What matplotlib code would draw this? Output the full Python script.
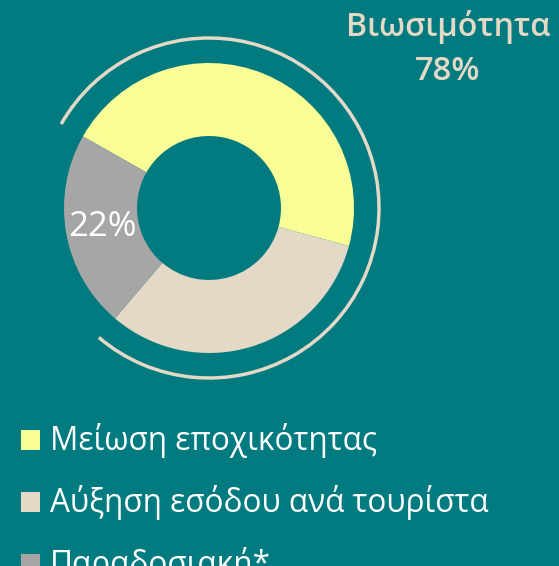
import matplotlib
matplotlib.use("Agg")
import matplotlib.pyplot as plt
from matplotlib.patches import Arc, Rectangle

plt.rcParams['font.family'] = ['Open Sans', 'Noto Sans', 'DejaVu Sans']

# shares of the three groups (percent)
labels = ['Μείωση εποχικότητας', 'Αύξηση εσόδου ανά τουρίστα', 'Παραδοσιακή*']
values = [46, 32, 22]
colors = ['#FAFD96', '#E3D9C6', '#A6A6A6']
sustainable = values[0] + values[1]   # 78

BG = '#017B80'
W, H = 559, 566

fig = plt.figure(figsize=(W / 100, H / 100), dpi=100, facecolor=BG)
ax = fig.add_axes([0, 0, 1, 1])
ax.set_facecolor(BG)
ax.set_aspect('equal')
ax.axis('off')

cx, cy = 209, H - 208
r_out, r_in = 145, 72

ax.pie(values, colors=colors, center=(cx, cy), radius=r_out,
       startangle=150.4, counterclock=False,
       wedgeprops=dict(width=r_out - r_in, linewidth=0))
ax.set_xlim(0, W)
ax.set_ylim(0, H)

# outer arc covering the sustainable share, gap centred on the grey wedge
grey_mid = 150.4 - 360 * (values[0] + values[1] + values[2] / 2) / 100
span = 360 * sustainable / 100
mid = grey_mid + 180
ax.add_patch(Arc((cx, cy), 2 * 170, 2 * 170, theta1=mid - span / 2,
                 theta2=mid + span / 2, color='#E3D9C6', lw=2.5))

ax.text(102, H - 227, f'{values[2]}%', color='white', fontsize=25,
        ha='center', va='center')
ax.text(448, H - 27, 'Βιωσιμότητα', color='#E3D9C6', fontsize=23,
        fontweight='semibold', ha='center', va='center')
ax.text(448, H - 72, f'{sustainable}%', color='#E3D9C6', fontsize=23.5,
        fontweight='semibold', ha='center', va='center')

# legend
for i, (lab, col) in enumerate(zip(labels, colors)):
    y = H - (440 + 62 * i)
    ax.add_patch(Rectangle((21, y - 10), 19, 20, color=col, lw=0))
    ax.text(50, y, lab, color='white', fontsize=22.7, ha='left', va='center')

fig.savefig('out.png', dpi=100, facecolor=BG)
